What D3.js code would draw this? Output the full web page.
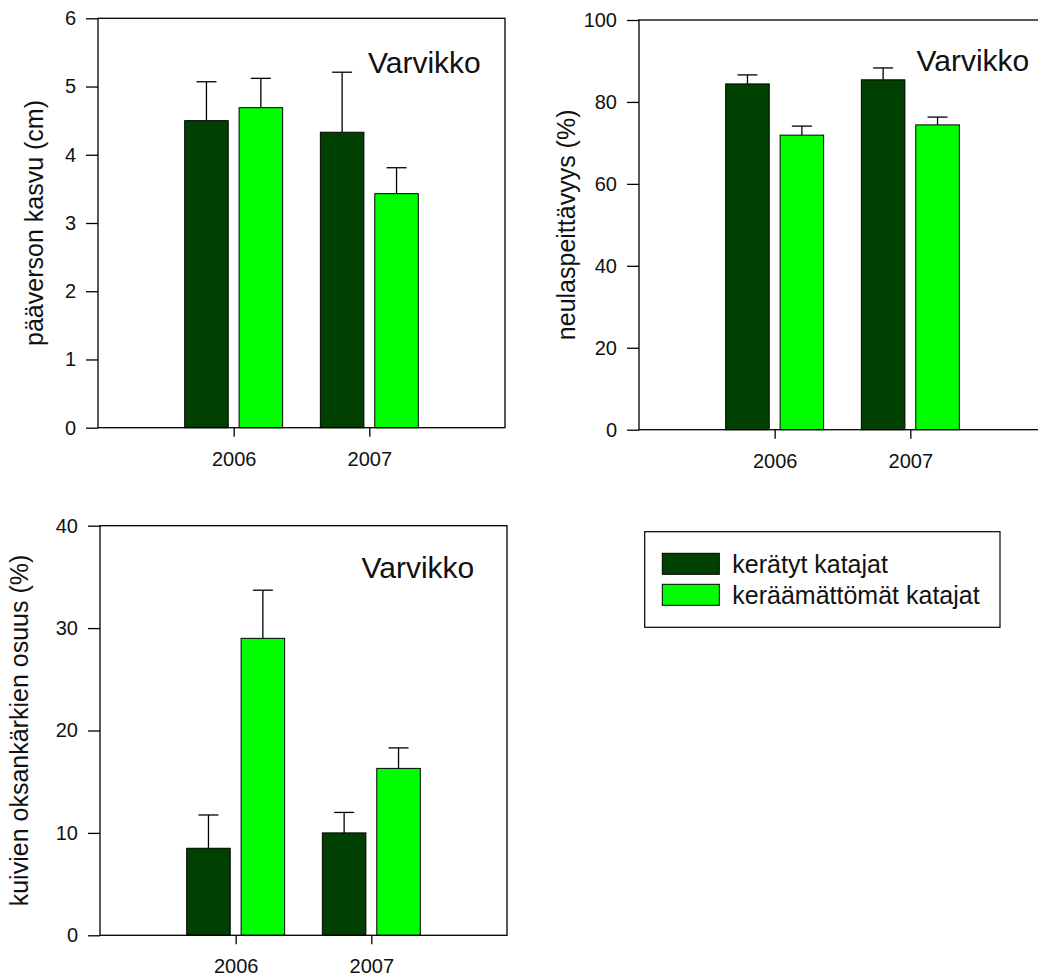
<!DOCTYPE html>
<html>
<head>
<meta charset="utf-8">
<script src="https://cdn.jsdelivr.net/npm/d3@7"></script>
<style>
  body { margin: 0; background: #fff; }
  svg { display: block; font-family: "Liberation Sans", Arial, sans-serif; }
</style>
</head>
<body>
<svg id="chart" width="1038" height="976"></svg>
<script>
// categories and series
const years = ['2006', '2007'];
const seriesNames = ['kerätyt katajat', 'keräämättömät katajat'];
const seriesColors = ['#004000', '#00ff00'];
const siteName = 'Varvikko';

// pääverson kasvu (cm): [series][year]
const kasvuMeans = [[4.50, 4.33], [4.69, 3.43]];
const kasvuErrors = [[0.57, 0.88], [0.43, 0.38]];
const kasvuTicks = [0, 1, 2, 3, 4, 5, 6];

// neulaspeittävyys (%)
const peittoMeans = [[84.4, 85.4], [71.9, 74.4]];
const peittoErrors = [[2.2, 2.9], [2.2, 1.9]];
const peittoTicks = [0, 20, 40, 60, 80, 100];

// kuivien oksankärkien osuus (%)
const kuivatMeans = [[8.5, 10.0], [29.0, 16.3]];
const kuivatErrors = [[3.25, 2.0], [4.7, 2.0]];
const kuivatTicks = [0, 10, 20, 30, 40];

const svg = d3.select('#chart');
const plotW = 407;

const panels = [
  { means: kasvuMeans, errors: kasvuErrors, ticks: kasvuTicks, label: 'pääverson kasvu (cm)',
    left: 98, top: 18.3, bottom: 427.7, labelOff: 55, siteX: 270, siteY: 55 },
  { means: peittoMeans, errors: peittoErrors, ticks: peittoTicks, label: 'neulaspeittävyys (%)',
    left: 639, top: 20, bottom: 429.7, labelOff: 64, siteX: 277.5, siteY: 50.7 },
  { means: kuivatMeans, errors: kuivatErrors, ticks: kuivatTicks, label: 'kuivien oksankärkien osuus (%)',
    left: 100, top: 525.7, bottom: 935.3, labelOff: 72, siteX: 261.5, siteY: 52.6 }
];

panels.forEach(p => {
  const h = p.bottom - p.top;
  const g = svg.append('g').attr('transform', `translate(${p.left},${p.top})`);

  const x = d3.scalePoint().domain(years).range([0, plotW]).padding(1);
  const half = x.step() * 0.361;
  const xs = d3.scaleBand().domain(d3.range(seriesNames.length)).range([-half, half]).paddingInner(0.2);
  const y = d3.scaleLinear().domain(d3.extent(p.ticks)).range([h, 0]);

  const rows = [];
  seriesNames.forEach((s, si) => years.forEach((yr, yi) => {
    rows.push({ si, yr, v: p.means[si][yi], e: p.errors[si][yi] });
  }));

  // error bars (upper only)
  const eb = g.append('g').attr('stroke', '#000').attr('stroke-width', 1.3);
  eb.selectAll('line.v').data(rows).enter().append('line')
    .attr('x1', d => x(d.yr) + xs(d.si) + xs.bandwidth() / 2)
    .attr('x2', d => x(d.yr) + xs(d.si) + xs.bandwidth() / 2)
    .attr('y1', d => y(d.v)).attr('y2', d => y(d.v + d.e));
  eb.selectAll('line.c').data(rows).enter().append('line')
    .attr('x1', d => x(d.yr) + xs(d.si) + xs.bandwidth() / 2 - 10)
    .attr('x2', d => x(d.yr) + xs(d.si) + xs.bandwidth() / 2 + 10)
    .attr('y1', d => y(d.v + d.e)).attr('y2', d => y(d.v + d.e));

  // bars
  g.append('g').selectAll('rect').data(rows).enter().append('rect')
    .attr('x', d => x(d.yr) + xs(d.si))
    .attr('y', d => y(d.v))
    .attr('width', xs.bandwidth())
    .attr('height', d => h - y(d.v))
    .attr('fill', d => seriesColors[d.si])
    .attr('stroke', '#000')
    .attr('stroke-width', 1);

  // frame
  g.append('rect').attr('width', plotW).attr('height', h)
    .attr('fill', 'none').attr('stroke', '#000').attr('stroke-width', 1.3);

  // axes
  const ya = g.append('g')
    .call(d3.axisLeft(y).tickValues(p.ticks).tickFormat(d3.format('d'))
      .tickSize(12).tickSizeOuter(0).tickPadding(10));
  const xa = g.append('g').attr('transform', `translate(0,${h})`)
    .call(d3.axisBottom(x).tickSize(9).tickSizeOuter(0).tickPadding(15));
  [ya, xa].forEach(a => {
    a.select('.domain').remove();
    a.selectAll('line').attr('stroke', '#000').attr('stroke-width', 1.3);
    a.selectAll('text').attr('font-size', 20).attr('fill', '#111')
      .attr('font-family', '"Liberation Sans", Arial, sans-serif');
  });

  // y label
  g.append('text')
    .attr('transform', `translate(${-p.labelOff},${h / 2}) rotate(-90)`)
    .attr('text-anchor', 'middle')
    .attr('font-size', 25)
    .attr('fill', '#111')
    .text(p.label);

  // site name
  g.append('text')
    .attr('x', p.siteX).attr('y', p.siteY)
    .attr('font-size', 30)
    .attr('fill', '#111')
    .text(siteName);
});

// legend
const lg = svg.append('g').attr('transform', 'translate(644.7,531.7)');
lg.append('rect').attr('width', 355.3).attr('height', 95.6)
  .attr('fill', '#fff').attr('stroke', '#000').attr('stroke-width', 1.2);
const items = lg.selectAll('g.item').data(seriesNames).enter().append('g')
  .attr('transform', (d, i) => `translate(17.6,${21.6 + i * 31})`);
items.append('rect').attr('width', 57).attr('height', 21)
  .attr('fill', (d, i) => seriesColors[i]).attr('stroke', '#000').attr('stroke-width', 1);
items.append('text').attr('x', 70).attr('y', 20)
  .attr('font-size', 25).attr('fill', '#111')
  .text(d => d);
</script>
</body>
</html>
